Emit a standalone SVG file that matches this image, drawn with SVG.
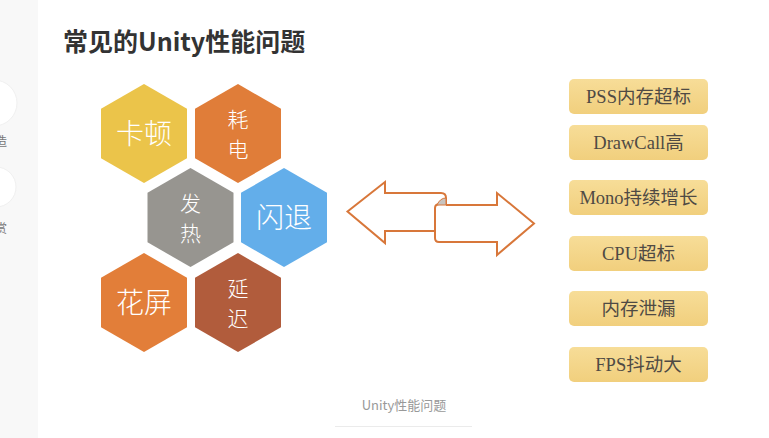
<svg xmlns="http://www.w3.org/2000/svg" width="769" height="438" viewBox="0 0 769 438">
<defs>
<linearGradient id="gold" x1="0" y1="0" x2="0" y2="1">
<stop offset="0" stop-color="#F7DD98"/>
<stop offset="1" stop-color="#F1CF7D"/>
</linearGradient>
<style>
.hex-t{font-family:"Noto Sans CJK SC","Noto Sans",sans-serif;fill:#fff;text-anchor:middle;font-weight:300}
.big{font-size:28px}
.sm{font-size:21px}
.box{fill:url(#gold)}
.bt{font-family:"Liberation Serif","Noto Sans CJK SC",serif;font-size:18.5px;fill:#4f4a44;text-anchor:middle}
.arr{fill:#fff;stroke:#D8773A;stroke-width:2;stroke-linejoin:miter}
</style>
</defs>
<rect width="769" height="438" fill="#fff"/>
<g id="sidebar">
<rect x="0" y="0" width="38" height="438" fill="#F8F8F8"/>
<circle cx="-6" cy="103" r="23" fill="#fff" stroke="#f0f0f0"/>
<circle cx="-4" cy="187" r="20" fill="#fff" stroke="#f0f0f0"/>
<text x="-5" y="146" font-family="Noto Sans CJK SC,sans-serif" font-size="12" fill="#777">造</text>
<text x="-5" y="233" font-family="Noto Sans CJK SC,sans-serif" font-size="12" fill="#777">赏</text>
</g>
<text id="title" x="63" y="51" font-family="Noto Sans CJK SC,sans-serif" font-size="25" font-weight="bold" fill="#333">常见的Unity性能问题</text>
<g id="hex-kadun">
<polygon points="144,84 187,108.8 187,158.3 144,183 101,158.3 101,108.8" fill="#EBC44A"/>
<text class="hex-t big" x="144" y="143.5">卡顿</text>
</g>
<g id="hex-haodian">
<polygon points="238,84 281,108.8 281,158.3 238,183 195,158.3 195,108.8" fill="#E07D39"/>
<text class="hex-t sm" x="238" y="127">耗</text>
<text class="hex-t sm" x="238" y="157">电</text>
</g>
<g id="hex-fare">
<polygon points="190.5,168 233.5,192.8 233.5,242.3 190.5,267 147.5,242.3 147.5,192.8" fill="#979590"/>
<text class="hex-t sm" x="190.5" y="211">发</text>
<text class="hex-t sm" x="190.5" y="241">热</text>
</g>
<g id="hex-shantui">
<polygon points="284,168 327,192.8 327,242.3 284,267 241,242.3 241,192.8" fill="#63AEEA"/>
<text class="hex-t big" x="284" y="227.5">闪退</text>
</g>
<g id="hex-huaping">
<polygon points="144,253 187,277.8 187,327.3 144,352 101,327.3 101,277.8" fill="#E27E39"/>
<text class="hex-t big" x="144" y="312.5">花屏</text>
</g>
<g id="hex-yanchi">
<polygon points="238,253 281,277.8 281,327.3 238,352 195,327.3 195,277.8" fill="#B15C3C"/>
<text class="hex-t sm" x="238" y="296">延</text>
<text class="hex-t sm" x="238" y="326">迟</text>
</g>
<g id="connectors">
<path class="arr" d="M435,231 L385,231 L385,243 L347.5,211.5 L385,182 L385,193 L441,193 Q446,193 446,198 L446,205"/>
<path class="arr" d="M446,205 L497,205 L497,193 L534,223.5 L497,255 L497,242 L439,242 Q435,242 435,238 L435,208 Q435,204 440,204"/>
<path d="M437,205 L446,205 L446,198 Q440,198 437,205 Z" fill="#C8C4C0" stroke="#D8773A" stroke-width="1"/>
</g>
<g id="box1"><rect class="box" x="569" y="79" width="139" height="35" rx="5"/><text class="bt" x="638.5" y="103">PSS内存超标</text></g>
<g id="box2"><rect class="box" x="569" y="125" width="139" height="35" rx="5"/><text class="bt" x="638.5" y="149">DrawCall高</text></g>
<g id="box3"><rect class="box" x="569" y="180" width="139" height="35" rx="5"/><text class="bt" x="638.5" y="204">Mono持续增长</text></g>
<g id="box4"><rect class="box" x="569" y="236" width="139" height="35" rx="5"/><text class="bt" x="638.5" y="260">CPU超标</text></g>
<g id="box5"><rect class="box" x="569" y="291" width="139" height="35" rx="5"/><text class="bt" x="638.5" y="315">内存泄漏</text></g>
<g id="box6"><rect class="box" x="569" y="347" width="139" height="35" rx="5"/><text class="bt" x="638.5" y="371">FPS抖动大</text></g>
<g id="caption">
<text x="404" y="410" font-family="Noto Sans CJK SC,sans-serif" font-size="13" fill="#999" text-anchor="middle">Unity性能问题</text>
<line x1="335" y1="426.5" x2="472" y2="426.5" stroke="#EBEBEB" stroke-width="1"/>
</g>
</svg>
